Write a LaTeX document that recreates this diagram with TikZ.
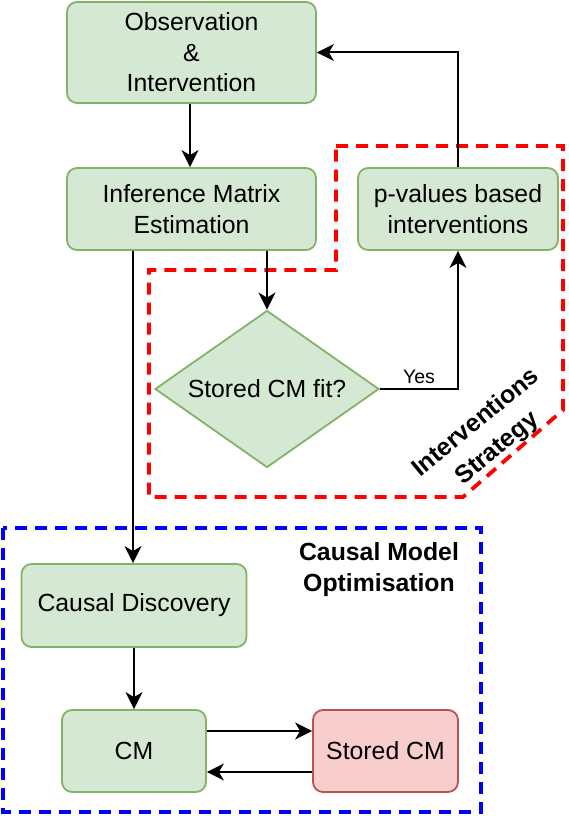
\documentclass[tikz,border=0pt]{standalone}
\usepackage{fontspec}
\setmainfont{Liberation Sans}
\usetikzlibrary{arrows.meta,shapes.geometric}
\definecolor{gfill}{HTML}{D5E8D4}
\definecolor{gline}{HTML}{82B366}
\definecolor{rfill}{HTML}{F8CECC}
\definecolor{rline}{HTML}{B85450}
\tikzset{
  box/.style={draw=gline,fill=gfill,line width=1.8pt,rounded corners=10pt,align=center,inner sep=0pt,font=\fontsize{24.8}{30.5}\selectfont},
  redbox/.style={box,draw=rline,fill=rfill},
  dia/.style={draw=gline,fill=gfill,line width=1.8pt,diamond,shape aspect=1.427,inner sep=0pt,font=\fontsize{24.8}{30.5}\selectfont},
  arr/.style={line width=2pt,-{Stealth[length=17pt,width=17pt,inset=5pt]}},
  reddash/.style={draw=red,line width=3.8pt,dash pattern=on 12pt off 8pt},
  bluedash/.style={draw=blue,line width=3.8pt,dash pattern=on 12pt off 8pt},
  lbl/.style={font=\bfseries\fontsize{24.8}{31}\selectfont,align=center}
}
\begin{document}
\begin{tikzpicture}[x=1pt,y=-1pt]
\useasboundingbox (0,0) rectangle (568,816);
% dashed groups
\draw[reddash] (336,146) -- (563,146) -- (563,410) -- (463,497) -- (149,497) -- (149,270) -- (336,270) -- cycle;
\draw[bluedash] (3,528) rectangle (481,812);
% nodes
\node[box,minimum width=249pt,minimum height=101pt] (obs) at (191.5,52.5) {Observation\\\&\\Intervention};
\node[box,minimum width=249pt,minimum height=82pt] (inf) at (191.5,209) {Inference Matrix\\Estimation};
\node[box,minimum width=200pt,minimum height=82pt] (pv) at (458,209) {p-values based\\interventions};
\node[dia,minimum width=224pt,minimum height=157pt] (fit) at (267,389) {Stored CM fit?};
\node[box,minimum width=225pt,minimum height=83pt] (cd) at (134,605.5) {Causal Discovery};
\node[box,minimum width=144pt,minimum height=82pt] (cm) at (134,751) {CM};
\node[redbox,minimum width=145pt,minimum height=82pt] (scm) at (385.5,751) {Stored CM};
% labels
\node[lbl] (cmo) at (379,570) {Causal Model\\Optimisation};
\node[lbl,rotate=39.5,font=\bfseries\fontsize{24.8}{33}\selectfont] (ist) at (487,436) {Interventions\\Strategy};
% connectors
\draw[arr] ([xshift=-1.5pt]obs.south) -- ([xshift=-1.5pt]inf.north);
\draw[arr] (fit.north |- inf.south) -- (fit.north);
\draw[arr] (fit.east) -- (pv.south |- fit.east) node[pos=0.5,above=1pt,font=\fontsize{19.5}{23}\selectfont] (yes) {Yes} -- (pv.south);
\draw[arr] (pv.north) -- (pv.north |- obs.east) -- (obs.east);
\draw[arr] ([xshift=-1pt]cd.north |- inf.south) -- ([xshift=-1pt]cd.north);
\draw[arr] (cd.south) -- (cm.north);
\draw[arr] ([yshift=20pt]cm.east) -- ([yshift=20pt]scm.west);
\draw[arr] ([yshift=-21pt]scm.west) -- ([yshift=-21pt]cm.east);
\end{tikzpicture}
\end{document}
